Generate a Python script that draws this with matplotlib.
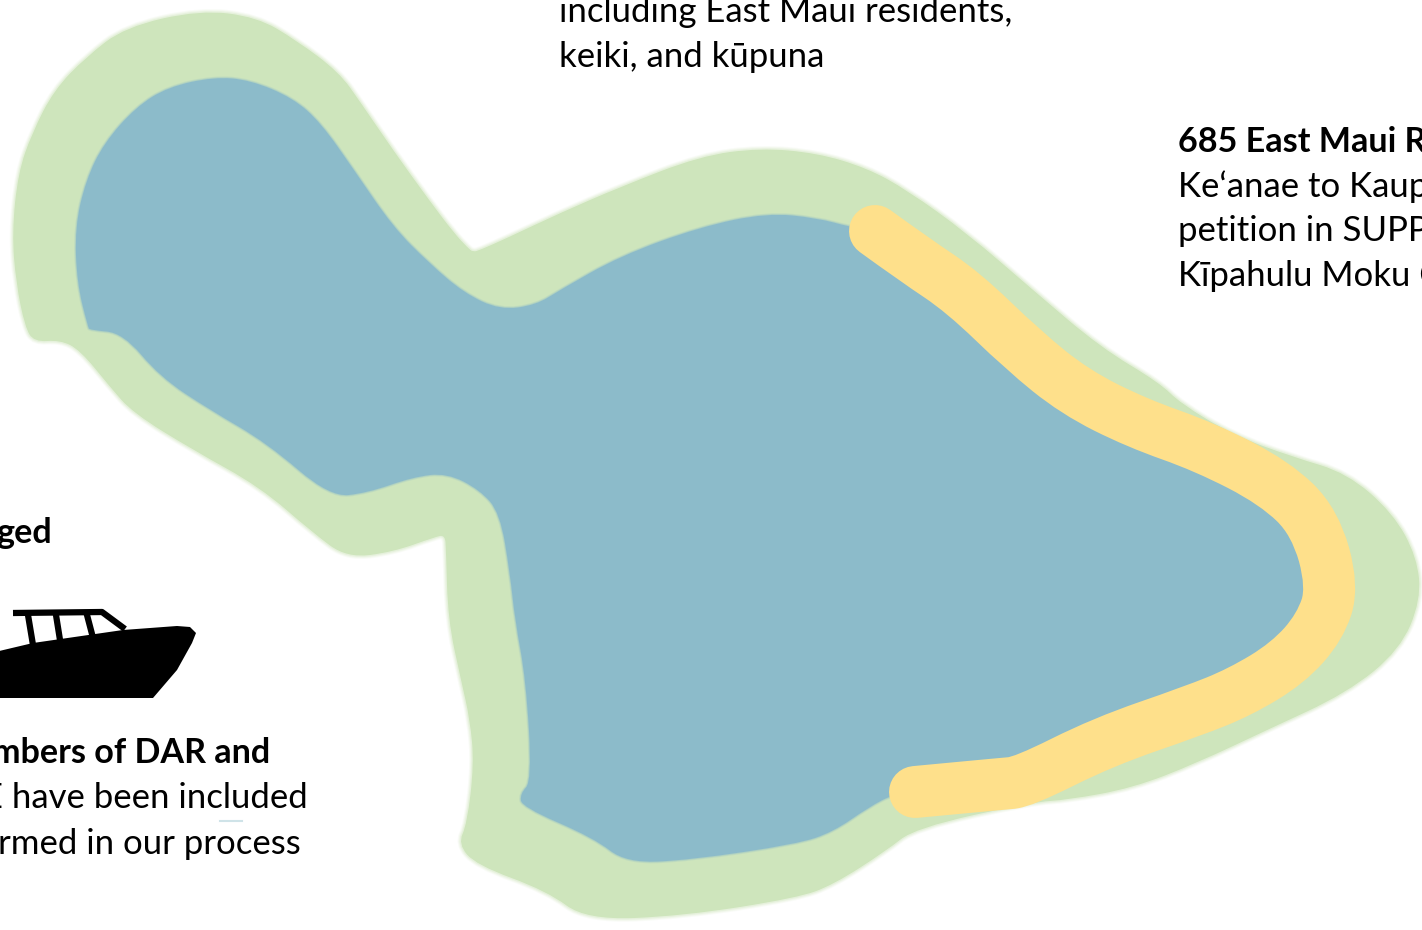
import matplotlib
matplotlib.use("Agg")
import matplotlib.pyplot as plt
from matplotlib.patches import PathPatch
from matplotlib.path import Path

plt.rcParams['font.family'] = ['Lato', 'DejaVu Sans']

# outlines, in image pixels
greenX = [200, 257, 296, 339, 361, 393, 429, 454, 468, 473, 480, 507, 560, 620, 700, 760, 817, 867, 907, 967,
          1033, 1100, 1160, 1180, 1233, 1293, 1347, 1393, 1417, 1421, 1400, 1347, 1267, 1197, 1133, 1067, 1033,
          915, 886, 833, 797, 683, 586, 547, 476, 458, 467, 474, 470, 461, 448, 446, 445, 435, 393, 347, 313, 260,
          193, 133, 110, 80, 60, 34, 25, 16, 12, 18, 32, 54, 86, 125]
greenY = [10, 17, 40, 72, 103, 150, 200, 233, 248, 252, 250, 238, 213, 187, 156, 148, 153, 168, 190, 233,
          290, 347, 383, 403, 435, 457, 473, 513, 557, 600, 650, 693, 730, 763, 788, 800, 802,
          828, 851, 885, 898, 916, 920, 891, 865, 844, 824, 764, 720, 680, 620, 550, 535, 537, 552, 558, 533, 487,
          450, 413, 387, 350, 340, 342, 327, 283, 233, 173, 133, 90, 57, 27]
blueX = [214, 250, 293, 321, 354, 393, 429, 464, 500, 536, 560, 620, 700, 767, 817, 850, 875, 915, 963, 1023,
         1075, 1137, 1205, 1275, 1308, 1308, 1300, 1270, 1230, 1193, 1103, 1023, 915, 894, 869, 833, 797, 690, 626,
         594, 522, 520, 532, 526, 515, 510, 500, 480, 447, 413, 367, 330, 267, 210, 160, 123, 90, 88, 77, 75,
         86, 104, 136, 168]
blueY = [77, 80, 98, 123, 170, 227, 263, 293, 310, 305, 290, 256, 227, 213, 218, 227, 231, 260, 292, 350,
         392, 423, 447, 483, 550, 587, 627, 663, 692, 711, 742, 782, 792, 794, 807, 832, 844, 860, 863,
         838, 807, 794, 781, 680, 620, 573, 513, 490, 473, 477, 493, 497, 443, 410, 377, 333, 330, 327, 283, 227,
         180, 143, 107, 87]
shoreX = [875, 915, 963, 1023, 1075, 1137, 1205, 1275, 1315, 1333, 1320, 1288, 1240, 1193, 1103, 1023, 1000, 915]
shoreY = [231, 260, 292, 350, 392, 423, 447, 483, 522, 587, 627, 663, 692, 711, 742, 782, 784, 792]

hullX = [-5, 33, 123, 177, 190, 196, 192, 177, 153, -5]
hullY = [652, 643, 630, 626, 627, 633, 643, 670, 698, 698]
roofX = [13, 102, 125]
roofY = [613, 612, 629]
postTopX = [28, 56, 87]
postBottomX = [33, 60, 92]
postTopY = [615, 615, 615]
postBottomY = [645, 640, 634]

boldLabels = ["685 East Maui R", "ged", "mbers of DAR and"]
plainLabels = ["including East Maui residents,", "keiki, and kūpuna", "Ke‘anae to Kaup", "petition in SUPP",
               "Kīpahulu Moku C", "E have been included", "rmed in our process"]


def smoothShape(xs, ys):
    # quadratic curves through the midpoints, closed
    n = len(xs)
    mid = [((xs[i]+xs[(i+1) % n])/2, (ys[i]+ys[(i+1) % n])/2) for i in range(n)]
    verts = [mid[-1]]
    codes = [Path.MOVETO]
    for i in range(n):
        verts += [(xs[i], ys[i]), mid[i]]
        codes += [Path.CURVE3, Path.CURVE3]
    return Path(verts, codes)


def smoothLine(xs, ys):
    # same idea for an open line, ends stay where they are
    n = len(xs)
    verts = [(xs[0], ys[0])]
    codes = [Path.MOVETO]
    for i in range(1, n-1):
        verts += [(xs[i], ys[i]), ((xs[i]+xs[i+1])/2, (ys[i]+ys[i+1])/2)]
        codes += [Path.CURVE3, Path.CURVE3]
    verts.append((xs[-1], ys[-1]))
    codes.append(Path.LINETO)
    return Path(verts, codes)


fig = plt.figure(figsize=(14.22, 9.3), dpi=100)
ax = fig.add_axes([0, 0, 1, 1])
ax.set_xlim(0, 1422)
ax.set_ylim(930, 0)
ax.axis('off')

green = smoothShape(greenX, greenY)
blue = smoothShape(blueX, blueY)
# the source map is a blown up bitmap, so the edges are a bit soft
for lw, alpha in [(5, 0.12), (3.5, 0.18), (2, 0.3)]:
    ax.add_patch(PathPatch(green, facecolor='none', edgecolor='#CEE5BC', lw=lw, alpha=alpha))
ax.add_patch(PathPatch(green, facecolor='#CEE5BC', edgecolor='none'))
for lw, alpha in [(2.5, 0.2), (1.2, 0.35)]:
    ax.add_patch(PathPatch(blue, facecolor='none', edgecolor='#8CBBCA', lw=lw, alpha=alpha))
ax.add_patch(PathPatch(blue, facecolor='#8CBBCA', edgecolor='none'))
ax.add_patch(PathPatch(smoothLine(shoreX, shoreY), facecolor='none', edgecolor='#FEE08B', lw=37.4,
                       capstyle='round', joinstyle='round'))

# boat
ax.fill(hullX, hullY, color='black', lw=0)
ax.plot(roofX, roofY, color='black', lw=4.5, solid_capstyle='butt')
for i in range(3):
    ax.plot([postTopX[i], postBottomX[i]], [postTopY[i], postBottomY[i]], color='black', lw=4.5)

# little smudge under "included"
ax.plot([220, 242], [820.5, 820.5], color='#CFE3E8', lw=1.5)

size = 25
boldSize = 24.6
ax.text(1178, 152, boldLabels[0], fontsize=boldSize, fontweight='bold', va='baseline', ha='left')
ax.text(52, 543, boldLabels[1], fontsize=boldSize, fontweight='bold', va='baseline', ha='right')
ax.text(270, 763, boldLabels[2], fontsize=boldSize, fontweight='bold', va='baseline', ha='right')
ax.text(559, 22, plainLabels[0], fontsize=size, va='baseline', ha='left')
ax.text(559, 67, plainLabels[1], fontsize=size, va='baseline', ha='left')
ax.text(1178, 197, plainLabels[2], fontsize=size, va='baseline', ha='left')
ax.text(1178, 241, plainLabels[3], fontsize=size, va='baseline', ha='left')
ax.text(1178, 286, plainLabels[4], fontsize=size, va='baseline', ha='left')
ax.text(308, 808, plainLabels[5], fontsize=size, va='baseline', ha='right')
ax.text(301, 854, plainLabels[6], fontsize=size, va='baseline', ha='right')

plt.savefig("out.png", dpi=100)
plt.close()
